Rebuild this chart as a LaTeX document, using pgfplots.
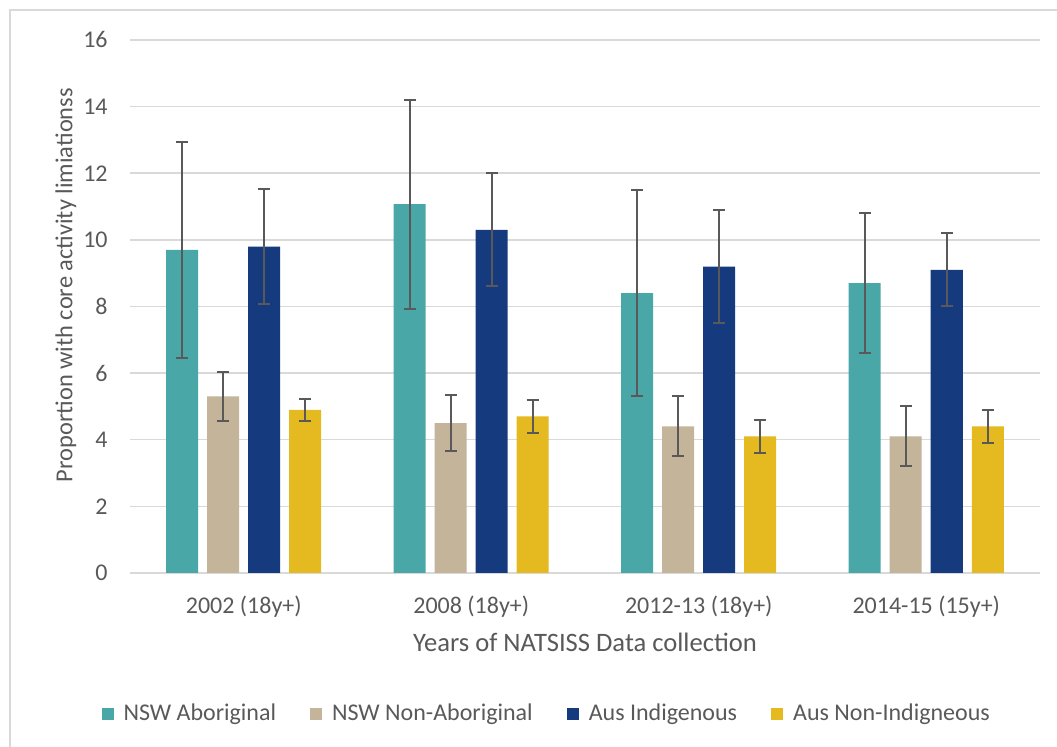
\documentclass[border=0pt]{standalone}
\usepackage{fontspec}
\setmainfont{Carlito}
\usepackage{pgfplots}
\usepackage{pgfplotstable}
\pgfplotsset{compat=1.18}
\definecolor{nswab}{HTML}{4AA7A8}
\definecolor{nswnon}{HTML}{C3B49A}
\definecolor{ausind}{HTML}{163A7E}
\definecolor{ausnon}{HTML}{E5B920}
\definecolor{txtgray}{HTML}{595959}
\definecolor{gridgray}{HTML}{D9D9D9}

% x = survey, y = proportion, e = error half-width
\pgfplotstableread{
x y e
0 9.7 3.25
1 11.07 3.14
2 8.4 3.1
3 8.7 2.1
}\nswAb
\pgfplotstableread{
x y e
0 5.3 0.74
1 4.5 0.83
2 4.4 0.9
3 4.1 0.9
}\nswNon
\pgfplotstableread{
x y e
0 9.8 1.72
1 10.3 1.7
2 9.2 1.7
3 9.1 1.1
}\ausInd
\pgfplotstableread{
x y e
0 4.9 0.33
1 4.7 0.5
2 4.1 0.5
3 4.4 0.5
}\ausNon

\begin{document}
\begin{tikzpicture}
\path[use as bounding box] (0pt,0pt) rectangle (528.5pt,373.5pt);
\draw[gridgray, line width=0.75pt] (5pt,0pt) -- (5pt,368.5pt) -- (528.5pt,368.5pt);
\begin{axis}[
    at={(65pt,87pt)}, anchor=south west,
    scale only axis,
    width=455pt, height=266.5pt,
    ybar=4.5pt, bar width=16pt,
    xmin=-0.5, xmax=3.5,
    ymin=0, ymax=16, ytick distance=2,
    xtick={0,1,2,3},
    xticklabels={2002 (18y+), 2008 (18y+), 2012-13 (18y+), 2014-15 (15y+)},
    axis line style={draw=none},
    major tick length=0pt,
    ymajorgrids, grid style={gridgray, line width=0.75pt},
    /pgf/number format/assume math mode=true,
    ticklabel style={font=\fontsize{12}{14}\selectfont, text=txtgray},
    yticklabel style={anchor=east, inner sep=0pt, xshift=-11pt},
    xticklabel style={anchor=base, yshift=-20.4pt},
    every axis x label/.style={at={(axis description cs:0.5,0)}, anchor=base, yshift=-39.3pt,
        font=\fontsize{13.3}{16}\selectfont, text=txtgray},
    every axis y label/.style={at={(axis description cs:0,0.54)}, rotate=90, anchor=base, yshift=28.8pt,
        font=\fontsize{12.2}{15}\selectfont, text=txtgray},
    xlabel={Years of NATSISS Data collection},
    ylabel={Proportion with core activity limiationss},
    legend columns=4,
    legend style={draw=none, fill=none, at={(axis description cs:0.459,-0.2645)}, anchor=center,
        font=\fontsize{12}{14}\selectfont, text=txtgray,
        nodes={inner sep=2pt},
        /tikz/every even column/.append style={column sep=15pt}},
    every axis plot/.append style={draw=none,
        legend image code/.code={\fill[##1] (0pt,-3pt) rectangle (6pt,3pt); \path (9pt,0pt);},
        error bars/y dir=both, error bars/y explicit,
        error bars/error bar style={line width=1pt, txtgray},
        error bars/error mark options={rotate=90, mark size=3pt, line width=1pt, txtgray}},
]
\addplot[fill=nswab] table[x=x, y=y, y error=e] {\nswAb};
\addplot[fill=nswnon] table[x=x, y=y, y error=e] {\nswNon};
\addplot[fill=ausind] table[x=x, y=y, y error=e] {\ausInd};
\addplot[fill=ausnon] table[x=x, y=y, y error=e] {\ausNon};
\legend{NSW Aboriginal, NSW Non-Aboriginal, Aus Indigenous, Aus Non-Indigneous}
\end{axis}
\end{tikzpicture}
\end{document}
